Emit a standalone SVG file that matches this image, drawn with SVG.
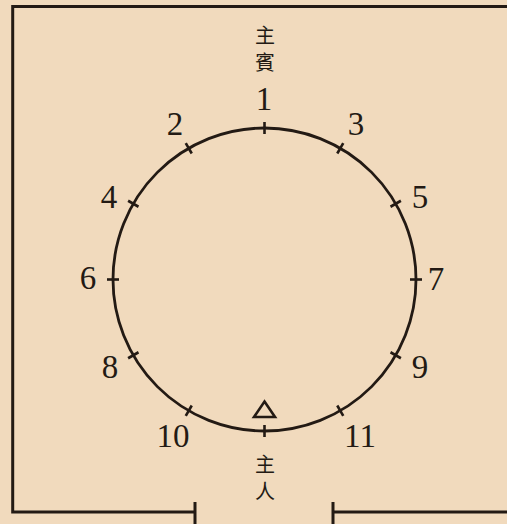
<svg xmlns="http://www.w3.org/2000/svg" width="507" height="524" viewBox="0 0 507 524">
<style>
.ln{fill:none;stroke:#231a14;stroke-linecap:butt}
.fr{stroke-width:3}
.ci{stroke-width:2.8}
.tk{stroke-width:2.6}
.num{font-family:"Liberation Serif","Times New Roman",serif;font-size:33px;fill:#231a14;text-anchor:middle}
.cjk{font-family:"Noto Sans CJK TC","Noto Sans CJK SC",sans-serif;font-size:20px;fill:#231a14;text-anchor:middle}
</style>
<rect x="0" y="0" width="507" height="524" fill="#f1dabd"/>
<g id="frame">
<path class="ln fr" d="M507,6.5 H12.7 V512 H195 M195,502 V524 M333,502 V524 M333,512 H507"/>
</g>
<g id="table">
<circle class="ln ci" cx="264.5" cy="279.5" r="151.5"/>
</g>
<g id="ticks">
<g transform="translate(264.5,279.5)">
<line class="ln tk" x1="0" y1="-145.5" x2="0" y2="-157.5" transform="rotate(0)"/>
<line class="ln tk" x1="0" y1="-145.5" x2="0" y2="-157.5" transform="rotate(-30)"/>
<line class="ln tk" x1="0" y1="-145.5" x2="0" y2="-157.5" transform="rotate(30)"/>
<line class="ln tk" x1="0" y1="-145.5" x2="0" y2="-157.5" transform="rotate(-60)"/>
<line class="ln tk" x1="0" y1="-145.5" x2="0" y2="-157.5" transform="rotate(60)"/>
<line class="ln tk" x1="0" y1="-145.5" x2="0" y2="-157.5" transform="rotate(-90)"/>
<line class="ln tk" x1="0" y1="-145.5" x2="0" y2="-157.5" transform="rotate(90)"/>
<line class="ln tk" x1="0" y1="-145.5" x2="0" y2="-157.5" transform="rotate(-120)"/>
<line class="ln tk" x1="0" y1="-145.5" x2="0" y2="-157.5" transform="rotate(120)"/>
<line class="ln tk" x1="0" y1="-145.5" x2="0" y2="-157.5" transform="rotate(-150)"/>
<line class="ln tk" x1="0" y1="-145.5" x2="0" y2="-157.5" transform="rotate(150)"/>
<line class="ln tk" x1="0" y1="-145.5" x2="0" y2="-157.5" transform="rotate(180)"/>
</g>
</g>
<g id="seat-numbers">
<text class="num" x="264" y="110">1</text>
<text class="num" x="175" y="135">2</text>
<text class="num" x="356" y="135">3</text>
<text class="num" x="109" y="208">4</text>
<text class="num" x="420" y="208">5</text>
<text class="num" x="88" y="289">6</text>
<text class="num" x="436" y="290">7</text>
<text class="num" x="110" y="378">8</text>
<text class="num" x="420" y="378">9</text>
<text class="num" x="173" y="447">10</text>
<text class="num" x="360" y="447">11</text>
</g>
<g id="guest-label">
<text class="cjk" x="265" y="43">主</text>
<text class="cjk" x="265" y="70">賓</text>
</g>
<g id="host">
<path class="ln tk" d="M264.5,401.5 L275,417 H254 Z" stroke-linejoin="miter"/>
<text class="cjk" x="265" y="472">主</text>
<text class="cjk" x="265" y="499">人</text>
</g>
</svg>
